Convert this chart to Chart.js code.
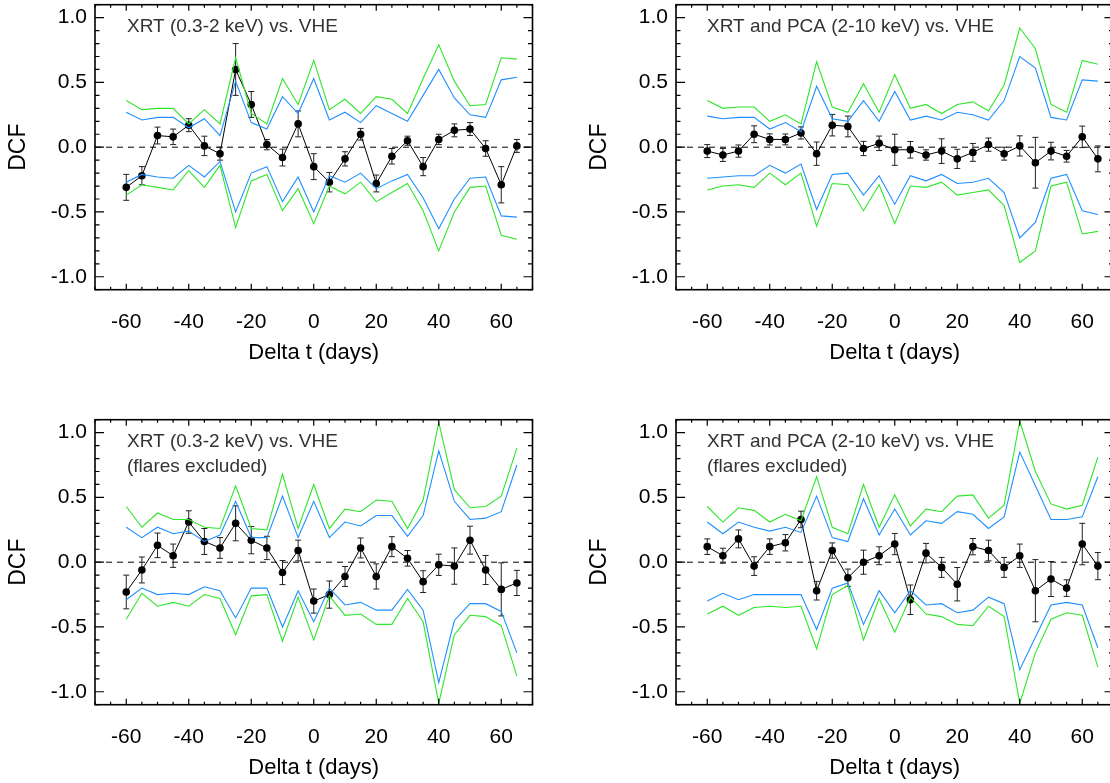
<!DOCTYPE html>
<html>
<head>
<meta charset="utf-8">
<script src="https://cdn.jsdelivr.net/npm/chart.js@4.4.1/dist/chart.umd.min.js"></script>
<style>
  html, body { margin: 0; padding: 0; background: #fff; overflow: hidden; }
  body { width: 1110px; height: 783px; position: relative; }
  canvas { position: absolute; }
</style>
</head>
<body>
<canvas id="c1" width="560" height="400" style="left:0;top:0"></canvas>
<canvas id="c2" width="560" height="400" style="left:581px;top:0"></canvas>
<canvas id="c3" width="560" height="400" style="left:0;top:415px"></canvas>
<canvas id="c4" width="560" height="400" style="left:581px;top:415px"></canvas>
<script>
// time lags (days)
const lags = [-60, -55, -50, -45, -40, -35, -30, -25, -20, -15, -10, -5, 0,
  5, 10, 15, 20, 25, 30, 35, 40, 45, 50, 55, 60, 65];

const xTickValues = [-60, -40, -20, 0, 20, 40, 60];
const yTickValues = [-1.0, -0.5, 0.0, 0.5, 1.0];

// XRT (0.3-2 keV) vs. VHE
const dcfA = [-0.31, -0.22, 0.09, 0.08, 0.17, 0.01, -0.05, 0.60, 0.33, 0.02, -0.08, 0.18, -0.15,
  -0.27, -0.09, 0.10, -0.28, -0.07, 0.05, -0.15, 0.06, 0.13, 0.14, -0.01, -0.29, 0.01];
const errA = [0.10, 0.07, 0.065, 0.06, 0.05, 0.075, 0.05, 0.20, 0.10, 0.04, 0.065, 0.10, 0.10,
  0.075, 0.055, 0.045, 0.065, 0.06, 0.035, 0.07, 0.04, 0.05, 0.05, 0.06, 0.14, 0.05];
const blueHiA = [0.27, 0.21, 0.23, 0.23, 0.15, 0.22, 0.09, 0.51, 0.19, 0.14, 0.39, 0.26, 0.53,
  0.21, 0.27, 0.19, 0.32, 0.26, 0.20, 0.40, 0.60, 0.38, 0.25, 0.23, 0.52, 0.54];
const greenHiA = [0.36, 0.29, 0.30, 0.30, 0.18, 0.29, 0.18, 0.69, 0.26, 0.18, 0.53, 0.33, 0.67,
  0.29, 0.37, 0.26, 0.39, 0.37, 0.26, 0.53, 0.79, 0.51, 0.32, 0.33, 0.69, 0.68];
const blueLoA = [-0.27, -0.21, -0.23, -0.24, -0.14, -0.23, -0.11, -0.50, -0.20, -0.15, -0.42, -0.23, -0.50,
  -0.22, -0.27, -0.20, -0.32, -0.26, -0.21, -0.39, -0.63, -0.40, -0.24, -0.23, -0.53, -0.54];
const greenLoA = [-0.37, -0.29, -0.31, -0.33, -0.18, -0.31, -0.14, -0.62, -0.26, -0.21, -0.49, -0.32, -0.59,
  -0.30, -0.36, -0.27, -0.42, -0.35, -0.28, -0.49, -0.80, -0.50, -0.31, -0.30, -0.68, -0.71];

// XRT and PCA (2-10 keV) vs. VHE
const dcfB = [-0.03, -0.06, -0.03, 0.10, 0.06, 0.06, 0.11, -0.05, 0.17, 0.16, -0.01, 0.03, -0.02,
  -0.02, -0.06, -0.03, -0.09, -0.04, 0.02, -0.05, 0.01, -0.12, -0.03, -0.07, 0.08, -0.09];
const errB = [0.05, 0.05, 0.047, 0.065, 0.043, 0.042, 0.047, 0.09, 0.083, 0.08, 0.055, 0.056, 0.12,
  0.064, 0.04, 0.095, 0.074, 0.069, 0.051, 0.05, 0.078, 0.196, 0.068, 0.045, 0.083, 0.10];
const blueHiB = [0.24, 0.22, 0.23, 0.23, 0.14, 0.19, 0.12, 0.47, 0.22, 0.20, 0.36, 0.20, 0.43,
  0.21, 0.24, 0.21, 0.27, 0.25, 0.21, 0.36, 0.70, 0.61, 0.23, 0.21, 0.52, 0.51];
const greenHiB = [0.36, 0.30, 0.31, 0.31, 0.20, 0.25, 0.18, 0.66, 0.31, 0.27, 0.49, 0.27, 0.56,
  0.30, 0.33, 0.26, 0.33, 0.35, 0.28, 0.48, 0.92, 0.76, 0.33, 0.27, 0.67, 0.64];
const blueLoB = [-0.24, -0.23, -0.22, -0.22, -0.14, -0.20, -0.13, -0.48, -0.21, -0.20, -0.37, -0.22, -0.44,
  -0.22, -0.26, -0.21, -0.28, -0.27, -0.24, -0.35, -0.70, -0.58, -0.24, -0.21, -0.49, -0.52];
const greenLoB = [-0.33, -0.30, -0.29, -0.31, -0.20, -0.29, -0.20, -0.61, -0.28, -0.29, -0.49, -0.29, -0.59,
  -0.30, -0.31, -0.27, -0.37, -0.35, -0.33, -0.45, -0.89, -0.80, -0.30, -0.27, -0.67, -0.65];

// XRT (0.3-2 keV) vs. VHE, flares excluded
const dcfC = [-0.23, -0.06, 0.13, 0.05, 0.31, 0.16, 0.11, 0.30, 0.17, 0.11, -0.08, 0.09, -0.30,
  -0.25, -0.11, 0.11, -0.11, 0.12, 0.03, -0.15, -0.02, -0.03, 0.17, -0.06, -0.21, -0.16];
const errC = [0.13, 0.10, 0.095, 0.09, 0.087, 0.10, 0.08, 0.135, 0.105, 0.09, 0.093, 0.08, 0.093,
  0.105, 0.077, 0.077, 0.097, 0.077, 0.06, 0.084, 0.082, 0.14, 0.108, 0.112, 0.205, 0.097];
const blueHiC = [0.27, 0.19, 0.27, 0.22, 0.24, 0.16, 0.21, 0.47, 0.19, 0.19, 0.51, 0.19, 0.47,
  0.19, 0.31, 0.28, 0.36, 0.36, 0.20, 0.36, 0.86, 0.47, 0.33, 0.34, 0.39, 0.75];
const greenHiC = [0.43, 0.27, 0.38, 0.33, 0.33, 0.27, 0.26, 0.59, 0.26, 0.25, 0.68, 0.26, 0.60,
  0.26, 0.41, 0.39, 0.48, 0.47, 0.26, 0.48, 1.08, 0.56, 0.42, 0.43, 0.51, 0.88];
const blueLoC = [-0.29, -0.20, -0.25, -0.24, -0.25, -0.19, -0.22, -0.43, -0.20, -0.20, -0.50, -0.22, -0.46,
  -0.20, -0.33, -0.31, -0.37, -0.37, -0.21, -0.37, -0.93, -0.45, -0.32, -0.32, -0.38, -0.70];
const greenLoC = [-0.44, -0.24, -0.34, -0.31, -0.34, -0.25, -0.28, -0.56, -0.26, -0.25, -0.61, -0.27, -0.60,
  -0.26, -0.41, -0.40, -0.48, -0.48, -0.28, -0.46, -1.09, -0.56, -0.41, -0.42, -0.49, -0.88];

// XRT and PCA (2-10 keV) vs. VHE, flares excluded
const dcfD = [0.12, 0.05, 0.18, -0.03, 0.12, 0.15, 0.33, -0.22, 0.09, -0.12, 0.00, 0.05, 0.14,
  -0.29, 0.07, -0.04, -0.17, 0.12, 0.09, -0.04, 0.05, -0.22, -0.13, -0.20, 0.14, -0.03];
const errD = [0.06, 0.058, 0.069, 0.072, 0.06, 0.063, 0.064, 0.072, 0.059, 0.067, 0.093, 0.069, 0.082,
  0.114, 0.075, 0.077, 0.129, 0.063, 0.08, 0.077, 0.09, 0.24, 0.135, 0.064, 0.16, 0.105];
const blueHiD = [0.31, 0.22, 0.31, 0.27, 0.24, 0.27, 0.23, 0.51, 0.19, 0.16, 0.49, 0.21, 0.41,
  0.21, 0.32, 0.30, 0.39, 0.37, 0.26, 0.35, 0.85, 0.59, 0.33, 0.33, 0.35, 0.66];
const greenHiD = [0.43, 0.31, 0.42, 0.40, 0.31, 0.37, 0.32, 0.66, 0.27, 0.22, 0.60, 0.27, 0.52,
  0.28, 0.41, 0.39, 0.51, 0.52, 0.34, 0.44, 1.09, 0.70, 0.45, 0.41, 0.44, 0.81];
const blueLoD = [-0.30, -0.24, -0.29, -0.25, -0.25, -0.25, -0.25, -0.52, -0.20, -0.16, -0.48, -0.22, -0.39,
  -0.22, -0.33, -0.32, -0.39, -0.37, -0.27, -0.32, -0.83, -0.58, -0.33, -0.31, -0.33, -0.66];
const greenLoD = [-0.40, -0.34, -0.41, -0.35, -0.34, -0.35, -0.34, -0.67, -0.25, -0.18, -0.60, -0.28, -0.54,
  -0.27, -0.40, -0.42, -0.48, -0.49, -0.34, -0.42, -1.09, -0.70, -0.44, -0.39, -0.41, -0.81];

const FONT = "'Liberation Sans', Arial, Helvetica, sans-serif";
const BLUE = '#1e8fff';
const GREEN = '#2fe62a';

// frame, inward ticks, zero line, error bars and the panel caption
const panelDecor = {
  id: 'panelDecor',
  beforeDatasetsDraw(chart, args, opts) {
    const { ctx, chartArea: a, scales: { x, y } } = chart;
    ctx.save();
    ctx.beginPath();
    ctx.rect(a.left, a.top, a.width, a.height);
    ctx.clip();
    ctx.strokeStyle = '#000';
    ctx.lineWidth = 1;
    ctx.setLineDash([6, 5]);
    const y0 = y.getPixelForValue(0);
    ctx.beginPath();
    ctx.moveTo(a.left, y0);
    ctx.lineTo(a.right, y0);
    ctx.stroke();
    ctx.setLineDash([]);

    ctx.strokeStyle = '#222';
    opts.values.forEach((v, i) => {
      const px = x.getPixelForValue(lags[i]);
      const hi = y.getPixelForValue(v + opts.errors[i]);
      const lo = y.getPixelForValue(v - opts.errors[i]);
      ctx.beginPath();
      ctx.moveTo(px, hi); ctx.lineTo(px, lo);
      ctx.moveTo(px - 3, hi); ctx.lineTo(px + 3, hi);
      ctx.moveTo(px - 3, lo); ctx.lineTo(px + 3, lo);
      ctx.stroke();
    });
    ctx.restore();
  },
  afterDraw(chart, args, opts) {
    const { ctx, chartArea: a, scales: { x, y } } = chart;
    ctx.save();
    ctx.strokeStyle = '#000';
    ctx.lineWidth = 1.6;
    ctx.strokeRect(a.left, a.top, a.width, a.height);

    ctx.lineWidth = 1.2;
    ctx.beginPath();
    for (let v = -70; v <= 70; v += 5) {
      const px = x.getPixelForValue(v);
      const len = v % 20 === 0 && Math.abs(v) <= 60 ? 6 : 3;
      ctx.moveTo(px, a.bottom); ctx.lineTo(px, a.bottom - len);
      ctx.moveTo(px, a.top); ctx.lineTo(px, a.top + len);
    }
    for (let k = -11; k <= 11; k++) {
      const py = y.getPixelForValue(k / 10);
      const len = k % 5 === 0 ? 9 : 4.5;
      ctx.moveTo(a.left, py); ctx.lineTo(a.left + len, py);
      ctx.moveTo(a.right, py); ctx.lineTo(a.right - len, py);
    }
    ctx.stroke();

    ctx.fillStyle = '#333';
    ctx.font = '19px ' + FONT;
    ctx.textBaseline = 'alphabetic';
    opts.caption.forEach((line, i) => {
      ctx.fillText(line, a.left + opts.captionX, a.top + 27 + i * 25);
    });
    ctx.restore();
  }
};

function makePanel(id, caption, captionX, values, errors, bHi, bLo, gHi, gLo) {
  const pts = arr => arr.map((v, i) => ({ x: lags[i], y: v }));
  const band = (arr, color) => ({
    data: pts(arr), borderColor: color, borderWidth: 1.1,
    pointRadius: 0, fill: false, tension: 0
  });
  return new Chart(document.getElementById(id), {
    type: 'line',
    data: {
      datasets: [
        band(gHi, GREEN), band(gLo, GREEN),
        band(bHi, BLUE), band(bLo, BLUE),
        {
          data: pts(values), borderColor: '#000', borderWidth: 1,
          pointRadius: 3.8, pointBackgroundColor: '#000', pointBorderWidth: 0,
          fill: false, tension: 0
        }
      ]
    },
    plugins: [panelDecor],
    options: {
      responsive: false,
      animation: false,
      layout: { padding: { top: 4.7, right: 27.5, left: 0, bottom: 0 } },
      plugins: {
        legend: { display: false },
        tooltip: { enabled: false },
        panelDecor: { caption, captionX, values, errors }
      },
      scales: {
        x: {
          type: 'linear', min: -70, max: 70,
          grid: { display: false, drawTicks: false }, border: { display: false },
          afterBuildTicks: s => { s.ticks = xTickValues.map(v => ({ value: v })); },
          afterFit: s => { s.height = 110.3; s.paddingLeft = 0; s.paddingRight = 0; },
          ticks: {
            color: '#000', padding: 20, maxRotation: 0, autoSkip: false,
            font: { family: FONT, size: 21, lineHeight: 1.2 }
          },
          title: {
            display: true, text: 'Delta t (days)', color: '#000',
            padding: { top: 0, bottom: 33.6 }, font: { family: FONT, size: 22, lineHeight: 1.2 }
          }
        },
        y: {
          min: -1.1, max: 1.1,
          grid: { display: false, drawTicks: false }, border: { display: false },
          afterBuildTicks: s => { s.ticks = yTickValues.map(v => ({ value: v })); },
          afterFit: s => { s.width = 95; s.paddingTop = 0; s.paddingBottom = 0; },
          ticks: {
            color: '#000', padding: 8,
            font: { family: FONT, size: 21, lineHeight: 1.2 },
            callback: v => v.toFixed(1)
          },
          title: {
            display: true, text: 'DCF', color: '#000',
            padding: { top: 5, bottom: 0 }, font: { family: FONT, size: 23, lineHeight: 1.2 }
          }
        }
      }
    }
  });
}

makePanel('c1', ['XRT (0.3-2 keV) vs. VHE'], 32, dcfA, errA, blueHiA, blueLoA, greenHiA, greenLoA);
makePanel('c2', ['XRT and PCA (2-10 keV) vs. VHE'], 31, dcfB, errB, blueHiB, blueLoB, greenHiB, greenLoB);
makePanel('c3', ['XRT (0.3-2 keV) vs. VHE', '(flares excluded)'], 32, dcfC, errC, blueHiC, blueLoC, greenHiC, greenLoC);
makePanel('c4', ['XRT and PCA (2-10 keV) vs. VHE', '(flares excluded)'], 31, dcfD, errD, blueHiD, blueLoD, greenHiD, greenLoD);
</script>
</body>
</html>
